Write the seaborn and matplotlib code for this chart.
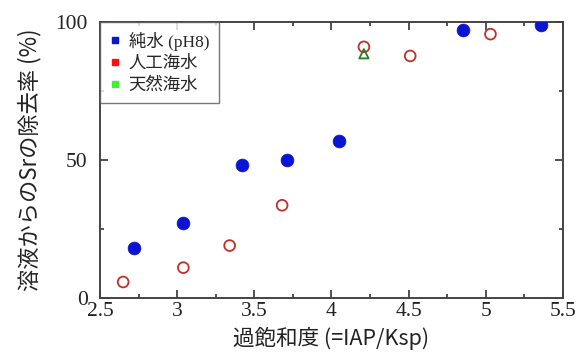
import matplotlib
matplotlib.use("Agg")
import matplotlib.pyplot as plt
import seaborn as sns
import pandas as pd
from matplotlib.lines import Line2D
from matplotlib.ticker import MultipleLocator

sns.set_theme(style="white")
plt.rcParams['font.family'] = ['Liberation Serif', 'Noto Sans CJK JP']

# Data
pure_x = [2.72, 3.04, 3.42, 3.71, 4.05, 4.85, 5.36]
pure_y = [18.0, 27.0, 48.3, 50.0, 57.0, 97.0, 98.8]
art_x = [2.65, 3.04, 3.34, 3.68, 4.21, 4.51, 5.03]
art_y = [5.8, 11.0, 19.0, 33.6, 91.0, 87.7, 95.6]
nat_x = [4.21]
nat_y = [88.5]
series_labels = ["純水 (pH8)", "人工海水", "天然海水"]
x_ticks = [2.5, 3, 3.5, 4, 4.5, 5, 5.5]
x_tick_labels = ["2.5", "3", "3.5", "4", "4.5", "5", "5.5"]
y_ticks = [0, 50, 100]

df_pure = pd.DataFrame({"x": pure_x, "y": pure_y})
df_art = pd.DataFrame({"x": art_x, "y": art_y})
df_nat = pd.DataFrame({"x": nat_x, "y": nat_y})

fig = plt.figure(figsize=(5.86, 3.55), dpi=100)
ax = fig.add_axes([100/586, 57/355, 463/586, 276/355])

sns.scatterplot(data=df_pure, x="x", y="y", ax=ax, marker="o", s=85,
                color="#0a14d2", edgecolor="#0a14d2", linewidth=0.5, zorder=3)
sns.scatterplot(data=df_art, x="x", y="y", ax=ax, marker="o", s=60,
                facecolor="none", edgecolor="#c0302a", linewidth=1.3, zorder=3)
sns.scatterplot(data=df_nat, x="x", y="y", ax=ax, marker="^", s=45,
                facecolor="none", edgecolor="#2a7a2a", linewidth=1.3, zorder=3)

ax.set_xlim(2.5, 5.5)
ax.set_ylim(0, 100)
ax.set_xticks(x_ticks)
ax.set_xticklabels(x_tick_labels)
ax.set_yticks(y_ticks)
ax.xaxis.set_minor_locator(MultipleLocator(0.25))
ax.yaxis.set_minor_locator(MultipleLocator(25))
ax.tick_params(which="both", direction="in", top=True, right=True,
               bottom=True, left=True, color="#333333", width=1.2)
ax.tick_params(which="major", length=6, labelsize=15.5, labelcolor="#222222")
ax.tick_params(axis="x", which="major", pad=3)
ax.tick_params(axis="y", which="major", pad=9)
ax.tick_params(which="minor", length=3)
for s in ax.spines.values():
    s.set_color("#444444")
    s.set_linewidth(1.4)

cjk = ['Noto Sans CJK JP', 'DejaVu Sans']
ax.set_xlabel("過飽和度 (=IAP/Ksp)", family=cjk, fontsize=15.5, color="#222222", labelpad=4)
ax.set_ylabel("溶液からのSrの除去率 (%)", family=cjk, fontsize=16, color="#222222", labelpad=10)

handles = [
    Line2D([], [], marker="s", linestyle="none", color="#0a14d2", markersize=5),
    Line2D([], [], marker="s", linestyle="none", color="#ff1010", markersize=5),
    Line2D([], [], marker="s", linestyle="none", color="#44ee33", markersize=5),
]
leg = ax.legend(handles, series_labels, loc="upper left", bbox_to_anchor=(0.0, 1.0),
                prop={'family': ['Liberation Serif', 'Noto Sans CJK JP'], 'size': 12.5},
                frameon=True, fancybox=False,
                edgecolor="#555555", handlelength=0.6, handletextpad=0.5,
                borderpad=0.55, labelspacing=0.3, borderaxespad=0.0)
leg.get_frame().set_linewidth(1.0)

fig.savefig("out.png", dpi=100)
